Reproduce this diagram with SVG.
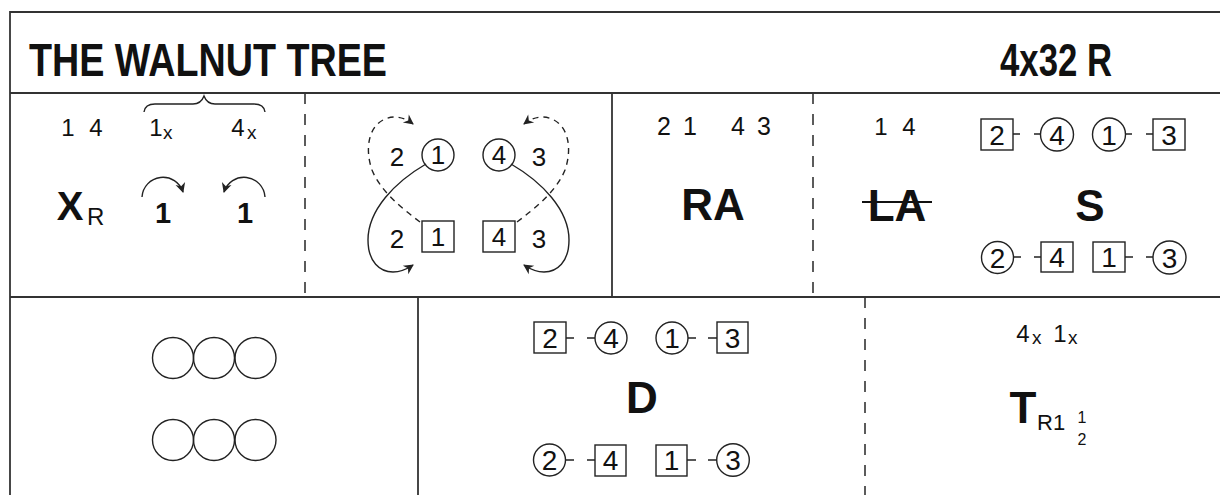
<svg xmlns="http://www.w3.org/2000/svg" width="1220" height="495" viewBox="0 0 1220 495">
<style>
.t{font-family:"Liberation Sans",Arial,sans-serif;fill:#111}
.b{font-weight:bold}
.m{text-anchor:middle}
.ln{stroke:#333;stroke-width:1.8;fill:none}
.dl{stroke:#333;stroke-width:1.6;fill:none;stroke-dasharray:11 10}
.sh{stroke:#222;stroke-width:1.4;fill:none}
.cd{stroke:#222;stroke-width:1.4;fill:none;stroke-dasharray:6 5}
.d22{font-size:24px}
.d24{font-size:25px}
.d25{font-size:26px}
.d28{font-size:28px}
.big{font-size:44px}
</style>
<defs>
<marker id="ah" viewBox="-10 -6 12 12" refX="0" refY="0" markerWidth="12" markerHeight="12" markerUnits="userSpaceOnUse" orient="auto">
<path d="M1,0 L-9,-5 L-6,0 L-9,5 Z" fill="#222"/>
</marker>
</defs>
<rect width="1220" height="495" fill="#fff"/>
<g id="frame">
<path class="ln" d="M10,495 V12 H1220"/>
<path class="ln" d="M10,93 H1220 M10,297 H1220"/>
<path class="ln" d="M612,93 V297 M418,297 V495"/>
<path class="dl" d="M305,93 V297 M813,93 V297 M865,297 V495"/>
</g>
<g id="title">
<text class="t b" x="29" y="76" font-size="46" textLength="358" lengthAdjust="spacingAndGlyphs">THE WALNUT TREE</text>
<text class="t b" x="1000" y="76" font-size="46" textLength="112" lengthAdjust="spacingAndGlyphs">4x32 R</text>
</g>
<g id="cell-xr">
<text class="t d22 m" x="68" y="136">1</text>
<text class="t d22 m" x="96" y="136">4</text>
<text class="t d22 m" x="156" y="136">1</text>
<text class="t" x="163" y="139" font-size="19">x</text>
<text class="t d22 m" x="238" y="136">4</text>
<text class="t" x="247" y="139" font-size="19">x</text>
<path class="sh" d="M144,112 Q145,104 155,104 L193,104 Q201,104 204,96 Q207,104 215,104 L254,104 Q264,104 265,112"/>
<text class="t b m" x="70" y="220" font-size="40">X</text>
<text class="t" x="87" y="225" font-size="24">R</text>
<path class="sh" d="M142,197 A21,21 0 0 1 183,192" marker-end="url(#ah)"/>
<text class="t b m" x="163" y="223" font-size="29">1</text>
<path class="sh" d="M265,197 A21,21 0 0 0 224,192" marker-end="url(#ah)"/>
<text class="t b m" x="245" y="223" font-size="29">1</text>
</g>
<g id="cell-cross">
<circle class="sh" cx="438" cy="155" r="16"/>
<text class="t d25 m" x="438" y="164">1</text>
<text class="t d25 m" x="397" y="166">2</text>
<circle class="sh" cx="499" cy="155" r="16"/>
<text class="t d25 m" x="499" y="164">4</text>
<text class="t d25 m" x="539" y="166">3</text>
<rect class="sh" x="422" y="221" width="32" height="31"/>
<text class="t d25 m" x="438" y="246">1</text>
<text class="t d25 m" x="397" y="248">2</text>
<rect class="sh" x="483" y="221" width="32" height="31"/>
<text class="t d25 m" x="499" y="246">4</text>
<text class="t d25 m" x="539" y="248">3</text>
</g>
<g id="connectors">
<path class="sh" d="M426,164 C395,182 368,210 368,240 C368,262 380,272 393,272 C400,272 407,269 413,265" marker-end="url(#ah)"/>
<path class="cd" d="M420,222 C400,207 380,190 372,170 C365,150 368,128 383,120 C395,114 405,118 413,124" marker-end="url(#ah)"/>
<g transform="translate(937,0) scale(-1,1)">
<path class="sh" d="M426,164 C395,182 368,210 368,240 C368,262 380,272 393,272 C400,272 407,269 413,265" marker-end="url(#ah)"/>
<path class="cd" d="M420,222 C400,207 380,190 372,170 C365,150 368,128 383,120 C395,114 405,118 413,124" marker-end="url(#ah)"/>
</g>
</g>
<g id="cell-ra">
<text class="t d24 m" x="664" y="135">2</text>
<text class="t d24 m" x="690" y="135">1</text>
<text class="t d24 m" x="738" y="135">4</text>
<text class="t d24 m" x="764" y="135">3</text>
<text class="t b big m" x="713" y="220">RA</text>
</g>
<g id="cell-la-s">
<text class="t d22 m" x="881" y="135">1</text>
<text class="t d22 m" x="909" y="135">4</text>
<text class="t b big m" x="897" y="221">LA</text>
<path d="M862,202 H932" stroke="#111" stroke-width="2.2"/>
<text class="t b big m" x="1090" y="221">S</text>
<rect class="sh" x="981" y="119" width="32" height="31"/>
<text class="t d28 m" x="997" y="145">2</text>
<path class="sh" d="M1013,134 H1020 M1034,134 H1041"/>
<circle class="sh" cx="1057" cy="134.5" r="16.5"/>
<text class="t d28 m" x="1057" y="145">4</text>
<circle class="sh" cx="1109" cy="134.5" r="16.5"/>
<text class="t d28 m" x="1109" y="145">1</text>
<path class="sh" d="M1125,134 H1132 M1146,134 H1153"/>
<rect class="sh" x="1153" y="119" width="32" height="31"/>
<text class="t d28 m" x="1169" y="145">3</text>
<circle class="sh" cx="997.5" cy="257.5" r="16"/>
<text class="t d28 m" x="997.5" y="268">2</text>
<path class="sh" d="M1013,257 H1021 M1034,257 H1041"/>
<rect class="sh" x="1041" y="242" width="32" height="30"/>
<text class="t d28 m" x="1057" y="267">4</text>
<rect class="sh" x="1093" y="242" width="32" height="30"/>
<text class="t d28 m" x="1109" y="267">1</text>
<path class="sh" d="M1125,257 H1133 M1146,257 H1153"/>
<circle class="sh" cx="1169.5" cy="257.5" r="16.5"/>
<text class="t d28 m" x="1169.5" y="268">3</text>
</g>
<g id="cell-circles">
<circle class="sh" cx="173" cy="358" r="20.5"/>
<circle class="sh" cx="214" cy="358" r="20.5"/>
<circle class="sh" cx="255.5" cy="358" r="20.5"/>
<circle class="sh" cx="173" cy="440" r="20.5"/>
<circle class="sh" cx="214" cy="440" r="20.5"/>
<circle class="sh" cx="255.5" cy="440" r="20.5"/>
</g>
<g id="cell-d">
<rect class="sh" x="534" y="322" width="32" height="31"/>
<text class="t d28 m" x="550" y="348">2</text>
<path class="sh" d="M566,338 H574 M587,338 H595"/>
<circle class="sh" cx="611" cy="338" r="16"/>
<text class="t d28 m" x="611" y="348">4</text>
<circle class="sh" cx="672" cy="338" r="16"/>
<text class="t d28 m" x="672" y="348">1</text>
<path class="sh" d="M688,338 H696 M708,338 H717"/>
<rect class="sh" x="717" y="322" width="31" height="31"/>
<text class="t d28 m" x="732.5" y="348">3</text>
<text class="t b big m" x="642" y="413">D</text>
<circle class="sh" cx="549.5" cy="460" r="16"/>
<text class="t d28 m" x="549.5" y="470">2</text>
<path class="sh" d="M565,460 H574 M587,460 H595"/>
<rect class="sh" x="595" y="445" width="31" height="31"/>
<text class="t d28 m" x="610.5" y="470">4</text>
<rect class="sh" x="656" y="445" width="31" height="31"/>
<text class="t d28 m" x="671.5" y="470">1</text>
<path class="sh" d="M687,460 H696 M708,460 H717"/>
<circle class="sh" cx="733" cy="460" r="16.3"/>
<text class="t d28 m" x="733" y="470">3</text>
</g>
<g id="cell-t">
<text class="t d22 m" x="1023" y="342">4</text>
<text class="t" x="1032" y="344" font-size="19">x</text>
<text class="t d22 m" x="1060" y="342">1</text>
<text class="t" x="1068" y="344" font-size="19">x</text>
<text class="t b big m" x="1023" y="423">T</text>
<text class="t" x="1037" y="430" font-size="22">R1</text>
<text class="t m" x="1082" y="423" font-size="16">1</text>
<text class="t m" x="1082" y="445" font-size="16">2</text>
</g>
</svg>
